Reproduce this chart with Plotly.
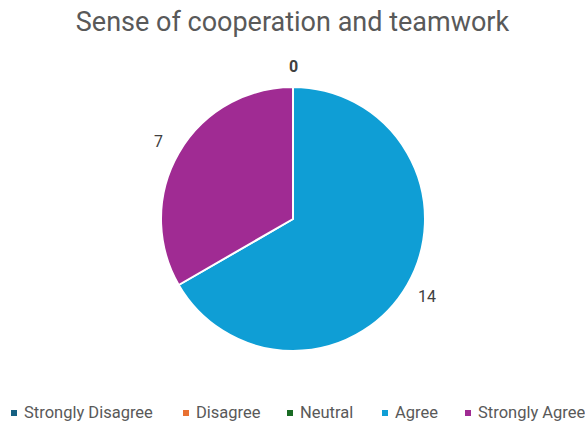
import math
import plotly.graph_objects as go

# Survey responses for one question
categories = ["Strongly Disagree", "Disagree", "Neutral", "Agree", "Strongly Agree"]
counts = [0, 0, 0, 14, 7]
colors = ["#156082", "#E97132", "#196B24", "#0F9ED5", "#A02B93"]

W, H = 585, 426
cx, cy, r = 293, 219, 132
label_gap = 23          # distance of value labels outside the rim (px)
legend_y = 412          # legend row centre (px from top)
legend_x = [11, 183, 287, 382, 465]  # legend swatch left edges (px)


def px(x):
    return x / W


def py(y):
    return 1 - y / H


fig = go.Figure(
    go.Pie(
        labels=categories,
        values=counts,
        sort=False,
        direction="clockwise",
        rotation=0,
        marker=dict(colors=colors, line=dict(color="white", width=2)),
        textinfo="none",
        domain=dict(x=[px(cx - r), px(cx + r)], y=[py(cy + r), py(cy - r)]),
        hoverinfo="label+value",
        showlegend=False,
    )
)

annotations = []
shapes = []

# Value labels just outside each slice, at the slice's mid-angle
total = sum(counts)
start = 0.0
zero_drawn = False
for name, v in zip(categories, counts):
    frac = v / total
    mid = (start + frac / 2) * 2 * math.pi
    start += frac
    if v == 0:
        if zero_drawn:
            continue
        zero_drawn = True
    d = r + label_gap
    lx = cx + d * math.sin(mid)
    ly = cy - d * math.cos(mid)
    annotations.append(dict(
        x=px(lx), y=py(ly + (3 if v == 0 else 0)), xref="paper", yref="paper",
        text=f"<b>{v}</b>" if v == 0 else str(v),
        showarrow=False, xanchor="center", yanchor="middle",
        font=dict(family="Roboto", size=16, color="#404040"),
    ))

# Legend row: small square swatch followed by the category name
for name, col, x0 in zip(categories, colors, legend_x):
    shapes.append(dict(
        type="rect", xref="paper", yref="paper",
        x0=px(x0), x1=px(x0 + 6), y0=py(legend_y + 4), y1=py(legend_y - 2),
        fillcolor=col, line=dict(width=0),
    ))
    annotations.append(dict(
        x=px(x0 + 11), y=py(legend_y), xref="paper", yref="paper",
        text=name, showarrow=False, xanchor="left", yanchor="middle",
        font=dict(family="Roboto", size=16.5, color="#595959"),
    ))

fig.update_layout(
    width=W,
    height=H,
    margin=dict(l=0, r=0, t=0, b=0),
    paper_bgcolor="white",
    plot_bgcolor="white",
    title=dict(
        text="Sense of cooperation and teamwork",
        x=0.5,
        xanchor="center",
        y=py(22),
        yanchor="middle",
        font=dict(family="Roboto", size=27, color="#595959"),
    ),
    annotations=annotations,
    shapes=shapes,
    showlegend=False,
)

fig.write_html("out.html")
